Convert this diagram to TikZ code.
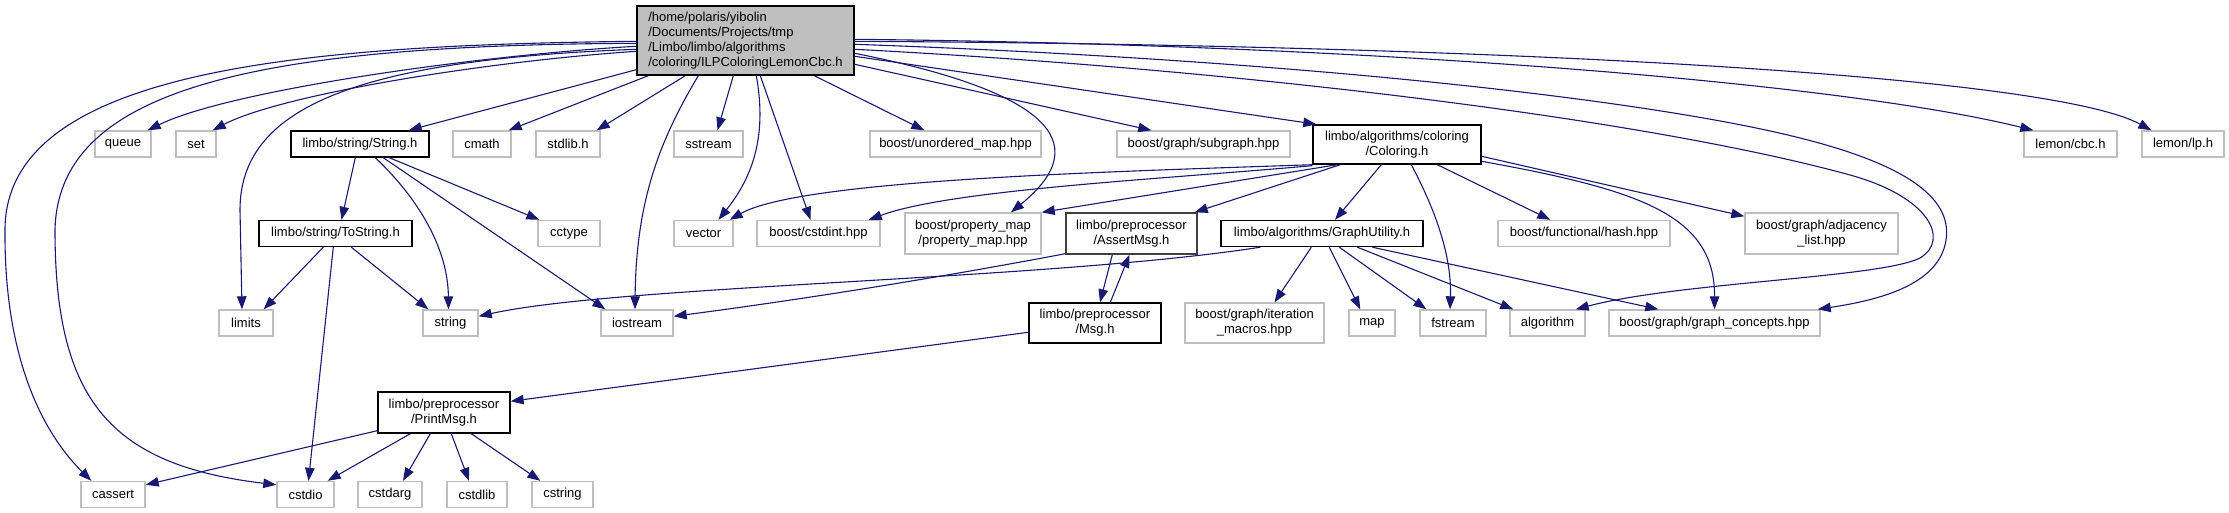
\documentclass[tikz,border=0pt]{standalone}
\usepackage{fontspec}
\setmainfont{Liberation Sans}
\usetikzlibrary{arrows.meta}
\definecolor{edgeblue}{HTML}{191970}
\definecolor{boxgrey}{HTML}{BFBFBF}
\definecolor{darkbox}{HTML}{404040}
\begin{document}
\begin{tikzpicture}[x=1pt,y=-1pt,
  box/.style={draw, inner sep=0pt, align=center, font=\fontsize{13}{15}\selectfont, line width=1.4pt},
  ext/.style={box, draw=boxgrey},
  proj/.style={box, draw=black},
  dark/.style={box, draw=darkbox},
  mainbox/.style={box, draw=black, fill=boxgrey, align=left},
  sz/.style n args={2}{minimum width=#1pt, minimum height=#2pt},
  e/.style={draw=edgeblue, line width=1.1pt, line join=round, -{Triangle[length=13pt,width=9.5pt]}}
]
\fill[white] (0,0) rectangle (2229,513);
\useasboundingbox (0,0) rectangle (2229,513);

% main
\node[mainbox,sz={217}{69}] (main) at (745.5,40.5) {/home/polaris/yibolin\\/Documents/Projects/tmp\\/Limbo/limbo/algorithms\\/coloring/ILPColoringLemonCbc.h};

% row 1
\node[ext,sz={56}{26}] (queue) at (123,144) {queue};
\node[ext,sz={40}{26}] (set) at (196,144) {set};
\node[proj,sz={138}{26}] (String) at (360,144) {limbo/string/String.h};
\node[ext,sz={58}{26}] (cmath) at (482,144) {cmath};
\node[ext,sz={64}{26}] (stdlib) at (568,144) {stdlib.h};
\node[ext,sz={69}{26}] (sstream) at (708.5,144) {sstream};
\node[ext,sz={171}{26}] (umap) at (955.5,144) {boost/unordered\_map.hpp};
\node[ext,sz={173}{26}] (subgraph) at (1203.5,144) {boost/graph/subgraph.hpp};
\node[proj,sz={168}{39}] (Coloring) at (1397,144.5) {limbo/algorithms/coloring\\/Coloring.h};
\node[ext,sz={93}{26}] (cbc) at (2070.5,144) {lemon/cbc.h};
\node[ext,sz={82}{26}] (lp) at (2183,144) {lemon/lp.h};

% row 2
\node[proj,sz={153}{26}] (ToString) at (335.5,233.5) {limbo/string/ToString.h};
\node[ext,sz={62}{26}] (cctype) at (569,233.5) {cctype};
\node[ext,sz={59}{26}] (vector) at (703.5,233.5) {vector};
\node[ext,sz={123}{26}] (cstdint) at (818.5,233.5) {boost/cstdint.hpp};
\node[ext,sz={136}{41}] (propmap) at (973,233.5) {boost/property\_map\\/property\_map.hpp};
\node[dark,sz={131}{41}] (AssertMsg) at (1131.5,233.5) {limbo/preprocessor\\/AssertMsg.h};
\node[proj,sz={202}{26}] (GraphUtility) at (1322,233.5) {limbo/algorithms/GraphUtility.h};
\node[ext,sz={172}{26}] (hash) at (1584,233.5) {boost/functional/hash.hpp};
\node[ext,sz={153}{41}] (adjlist) at (1821.5,233.5) {boost/graph/adjacency\\\_list.hpp};

% row 3
\node[ext,sz={54}{26}] (limits) at (246,323) {limits};
\node[ext,sz={55}{26}] (string) at (450.5,323) {string};
\node[ext,sz={72}{26}] (iostream) at (637,323) {iostream};
\node[proj,sz={132}{40}] (Msg) at (1095,323) {limbo/preprocessor\\/Msg.h};
\node[ext,sz={139}{40}] (itermacros) at (1254.5,323) {boost/graph/iteration\\\_macros.hpp};
\node[ext,sz={46}{26}] (map) at (1372,323) {map};
\node[ext,sz={66}{26}] (fstream) at (1453,323) {fstream};
\node[ext,sz={75}{26}] (algorithm) at (1547.5,323) {algorithm};
\node[ext,sz={211}{26}] (gconcepts) at (1714.5,323) {boost/graph/graph\_concepts.hpp};

% row 4
\node[proj,sz={132}{41}] (PrintMsg) at (444,412.5) {limbo/preprocessor\\/PrintMsg.h};

% row 5
\node[ext,sz={64}{26}] (cassert) at (113,494.5) {cassert};
\node[ext,sz={57}{26}] (cstdio) at (305.5,494.5) {cstdio};
\node[ext,sz={64}{26}] (cstdarg) at (390,494.5) {cstdarg};
\node[ext,sz={60}{26}] (cstdlib) at (477,494.5) {cstdlib};
\node[ext,sz={61}{26}] (cstring) at (562.5,494.5) {cstring};

% ---- edges from main
\draw[e] ([yshift=-36pt]main.north west) .. controls (300,45) and (5,70) .. (5,230) .. controls (4,370) and (50,440) .. ([xshift=11pt]cassert.north west);
\draw[e] ([yshift=-38pt]main.north west) .. controls (250,45) and (58,90) .. (55,230) .. controls (55,400) and (110,465) .. ([yshift=-4pt]cstdio.north west);
\draw[e] ([yshift=-41pt]main.north west) .. controls (480,55) and (230,90) .. ([xshift=-4pt]queue.north east);
\draw[e] ([yshift=-44pt]main.north west) .. controls (350,60) and (240,110) .. (240,210) -- ([xshift=-4pt]limits.north);
\draw[e] ([yshift=-46pt]main.north west) .. controls (480,62) and (280,95) .. ([xshift=-4pt]set.north east);
\draw[e] ([yshift=6pt]main.south west) -- ([xshift=-21pt]String.north east);
\draw[e] ([xshift=12pt]main.south west) -- ([xshift=-3pt]cmath.north east);
\draw[e] ([xshift=49pt]main.south west) -- ([xshift=-4pt]stdlib.north east);
\draw[e] ([xshift=62pt]main.south west) .. controls (660,140) and (636,200) .. ([xshift=-2pt]iostream.north);
\draw[e] ([xshift=97pt]main.south west) -- ([xshift=9pt]sstream.north);
\draw[e] ([xshift=120pt]main.south west) .. controls (768,140) and (750,180) .. ([xshift=15pt]vector.north);
\draw[e] ([xshift=124pt]main.south west) -- ([xshift=-8pt]cstdint.north);
\draw[e] ([xshift=178pt]main.south west) -- ([xshift=55pt]umap.north west);
\draw[e] ([yshift=-59pt]main.north east) -- ([xshift=35pt]subgraph.north west);
\draw[e] ([yshift=-51pt]main.north east) -- ([xshift=4pt]Coloring.north west);
\draw[e] ([yshift=-48pt]main.north east) .. controls (1040,90) and (1100,140) .. ([xshift=38pt]propmap.north);
\draw[e] ([yshift=-34pt]main.north east) .. controls (1400,45) and (1850,85) .. ([xshift=10pt]cbc.north west);
\draw[e] ([yshift=-36pt]main.north east) .. controls (1500,45) and (2050,75) .. ([xshift=10pt]lp.north west);
\draw[e] ([yshift=-39pt]main.north east) .. controls (1300,60) and (1650,100) .. (1800,138) .. controls (1920,168) and (1955,205) .. (1945,245) .. controls (1935,285) and (1880,300) .. ([xshift=-3pt]gconcepts.north east);
\draw[e] ([yshift=-44pt]main.north east) .. controls (1250,70) and (1650,120) .. (1850,175) .. controls (1930,197) and (1950,240) .. (1920,258) .. controls (1880,278) and (1680,282) .. ([xshift=-10pt]algorithm.north east);

% ---- edges from Coloring.h
\draw[e] (Coloring.south west) .. controls (1100,172) and (800,180) .. ([xshift=-4pt]vector.north east);
\draw[e] ([yshift=-1pt]Coloring.south west) .. controls (1150,180) and (950,190) .. ([xshift=-12pt]cstdint.north east);
\draw[e] ([xshift=25pt]Coloring.south west) -- (propmap.north east);
\draw[e] ([xshift=28pt]Coloring.south west) -- ([xshift=-3pt]AssertMsg.north east);
\draw[e] ([xshift=69pt]Coloring.south west) -- ([xshift=13pt]GraphUtility.north);
\draw[e] ([xshift=99pt]Coloring.south west) .. controls (1430,200) and (1452,250) .. ([xshift=-3pt]fstream.north);
\draw[e] ([xshift=125pt]Coloring.south west) -- ([xshift=53pt]hash.north west);
\draw[e] ([yshift=-32pt]Coloring.north east) -- ([yshift=-4pt]adjlist.north west);
\draw[e] ([yshift=-37pt]Coloring.north east) .. controls (1640,190) and (1715,215) .. (gconcepts.north);

% ---- edges from String.h
\draw[e] ([xshift=65pt]String.south west) -- ([xshift=6pt]ToString.north);
\draw[e] ([xshift=85pt]String.south west) .. controls (420,200) and (448,250) .. ([xshift=-2pt]string.north);
\draw[e] ([xshift=93pt]String.south west) -- ([xshift=5pt]iostream.north west);
\draw[e] ([xshift=99pt]String.south west) -- ([xshift=2pt]cctype.north west);

% ---- edges from ToString.h
\draw[e] ([xshift=65pt]ToString.south west) -- ([xshift=-10pt]limits.north east);
\draw[e] ([xshift=75pt]ToString.south west) -- ([xshift=3pt]cstdio.north);
\draw[e] ([xshift=93pt]ToString.south west) -- ([xshift=6pt]string.north west);

% ---- edges from GraphUtility.h
\draw[e] ([xshift=40pt]GraphUtility.south west) .. controls (1050,280) and (620,285) .. ([yshift=-7pt]string.north east);
\draw[e] ([xshift=91pt]GraphUtility.south west) -- ([xshift=20pt]itermacros.north);
\draw[e] ([xshift=109pt]GraphUtility.south west) -- ([xshift=12pt]map.north west);
\draw[e] ([xshift=119pt]GraphUtility.south west) -- ([xshift=7pt]fstream.north west);
\draw[e] ([xshift=137pt]GraphUtility.south west) -- ([xshift=4pt]algorithm.north west);
\draw[e] ([xshift=152pt]GraphUtility.south west) -- ([xshift=50pt]gconcepts.north west);

% ---- AssertMsg / Msg
\draw[e] ([yshift=1pt]AssertMsg.south west) .. controls (900,285) and (760,305) .. ([yshift=-7pt]iostream.north east);
\draw[e] ([xshift=47pt]AssertMsg.south west) -- ([xshift=5pt]Msg.north);
\draw[e] ([xshift=82pt]Msg.north west) -- ([xshift=-2pt]AssertMsg.south);
\draw[e] ([yshift=-30pt]Msg.north west) -- ([yshift=-10pt]PrintMsg.north east);

% ---- PrintMsg
\draw[e] ([yshift=3pt]PrintMsg.south west) -- ([yshift=-4pt]cassert.north east);
\draw[e] ([xshift=33pt]PrintMsg.south west) -- ([xshift=-7pt]cstdio.north east);
\draw[e] ([xshift=53pt]PrintMsg.south west) -- ([xshift=13pt]cstdarg.north);
\draw[e] ([xshift=74pt]PrintMsg.south west) -- ([xshift=-8pt]cstdlib.north);
\draw[e] ([xshift=94pt]PrintMsg.south west) -- ([xshift=9pt]cstring.north west);
\end{tikzpicture}
\end{document}
